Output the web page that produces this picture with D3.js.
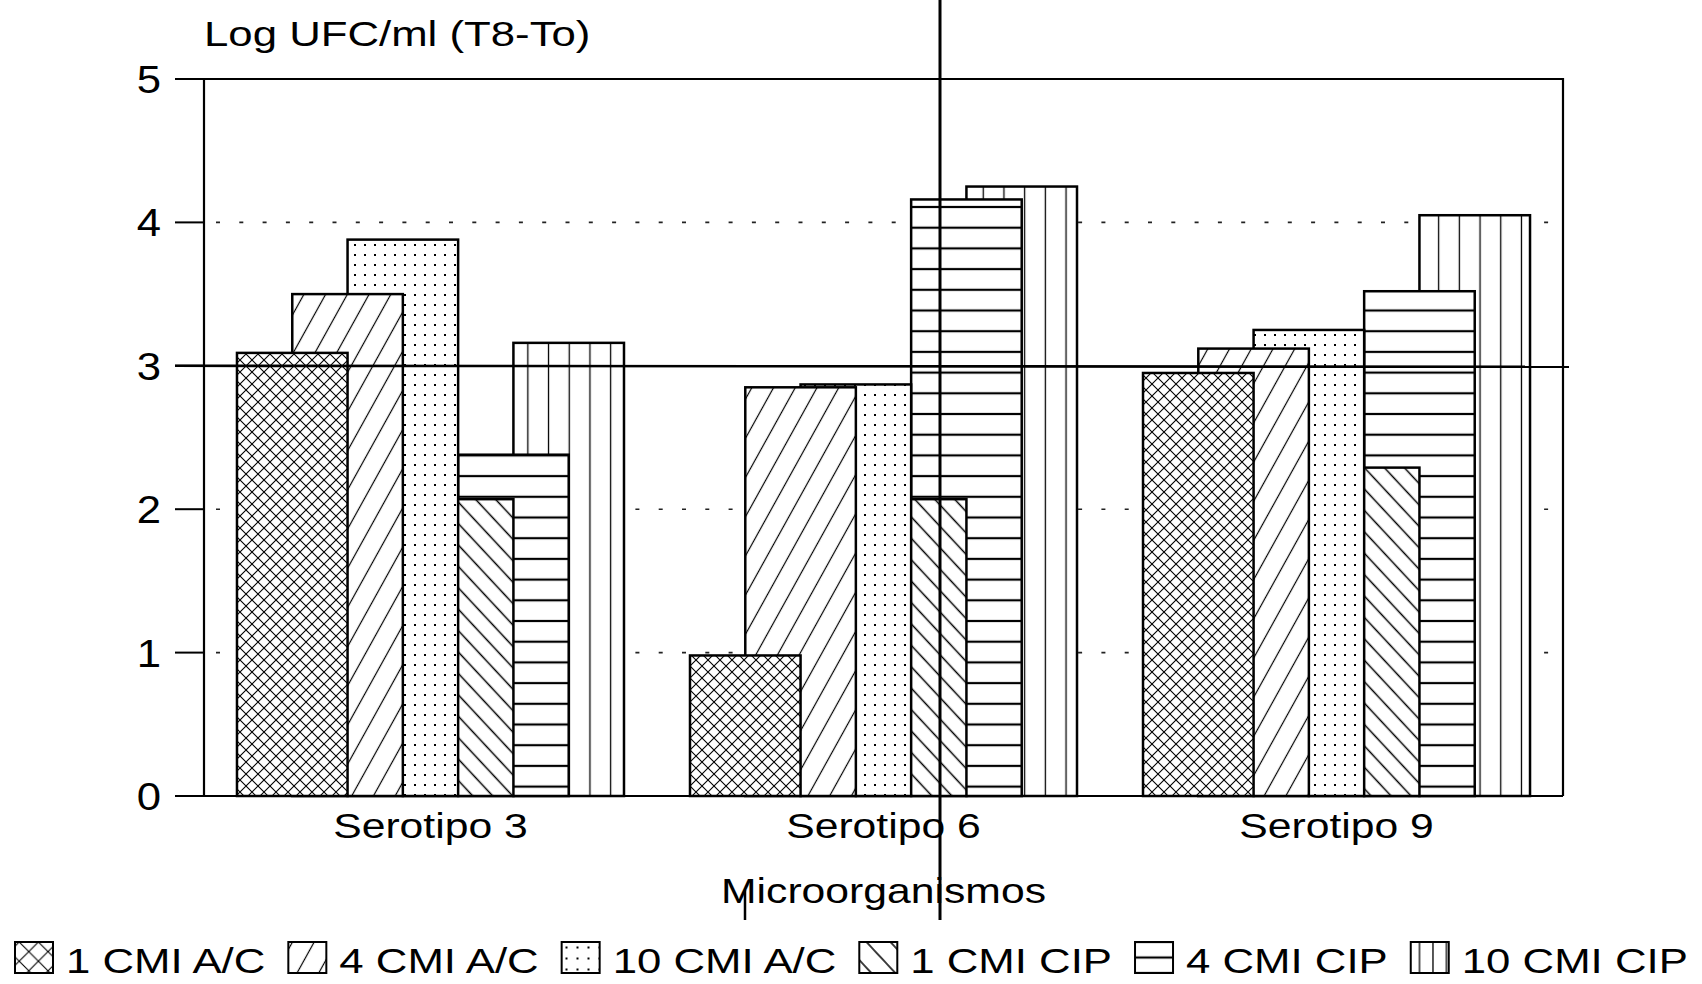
<!DOCTYPE html>
<html>
<head>
<meta charset="utf-8">
<script src="https://cdn.jsdelivr.net/npm/d3@7"></script>
<style>
  body { margin: 0; background: #fff; }
  text { font-family: "Liberation Sans", Arial, sans-serif; fill: #000; }
</style>
</head>
<body>
<svg id="chart" width="1702" height="984"></svg>
<script>
// Data
var categories = ['Serotipo 3', 'Serotipo 6', 'Serotipo 9'];
var seriesNames = ['1 CMI A/C', '4 CMI A/C', '10 CMI A/C',
                   '1 CMI CIP', '4 CMI CIP', '10 CMI CIP'];
var cmi1AC = [3.09, 0.98, 2.95];
var cmi4AC = [3.50, 2.85, 3.12];
var cmi10AC = [3.88, 2.87, 3.25];
var cmi1CIP = [2.07, 2.07, 2.29];
var cmi4CIP = [2.38, 4.16, 3.52];
var cmi10CIP = [3.16, 4.25, 4.05];
var yTicks = [0, 1, 2, 3, 4, 5];
var dottedGrid = [1, 2, 4];
var yTitle = 'Log UFC/ml (T8-To)';
var xTitle = 'Microorganismos';

var seriesValues = [cmi1AC, cmi4AC, cmi10AC, cmi1CIP, cmi4CIP, cmi10CIP];
var patternKinds = ['cross', 'slash', 'dots', 'backslash', 'hlines', 'vlines'];

var svg = d3.select('#chart'),
    plotLeft = 204,
    plotRight = 1563,
    plotTop = 79,
    plotBottom = 796,
    tickStart = 175,
    sx = 1.22;

var x0 = d3.scaleBand()
    .domain(categories)
    .range([plotLeft, plotRight])
    .paddingInner(0.1457)
    .paddingOuter(0.0728);

// seven half-width slots per group, each bar spans two of them
var slot = d3.scaleLinear().domain([0, 7]).range([0, x0.bandwidth()]);

var y = d3.scaleLinear().domain([0, 5]).range([plotBottom, plotTop]);

var defs = svg.append('defs');

/**
  Build one hatch pattern. k stretches the spacing, oy shifts the tiles.
 */
function addPattern(id, kind, k, oy) {
  var p = defs.append('pattern')
      .attr('id', id)
      .attr('patternUnits', 'userSpaceOnUse')
      .attr('y', oy || 0);
  var w, h;
  if (kind === 'cross') {
    w = h = 12 * k;
    p.attr('width', w).attr('height', h);
    p.append('rect').attr('width', w).attr('height', h).attr('fill', '#fff');
    p.append('path')
      .attr('d', 'M0,0L' + w + ',' + h + 'M0,' + h + 'L' + w + ',0')
      .attr('stroke', '#000').attr('stroke-width', 1.1);
  } else if (kind === 'slash' || kind === 'backslash') {
    w = (kind === 'slash' ? 19 : 14.6) * k;
    h = 10;
    p.attr('width', w).attr('height', h)
      .attr('patternTransform', kind === 'slash' ? 'rotate(29)' : 'rotate(-43)');
    p.append('rect').attr('width', w).attr('height', h).attr('fill', '#fff');
    p.append('line')
      .attr('x1', w / 2).attr('x2', w / 2).attr('y1', -1).attr('y2', h + 1)
      .attr('stroke', '#000').attr('stroke-width', kind === 'slash' ? 1.2 : 1.5);
  } else if (kind === 'dots') {
    w = h = 10 * k;
    p.attr('width', w).attr('height', h);
    p.append('rect').attr('width', w).attr('height', h).attr('fill', '#fff');
    p.append('rect').attr('x', w / 2 - 1).attr('y', h / 2 - 1)
      .attr('width', 2).attr('height', 2).attr('fill', '#000');
  } else if (kind === 'hlines') {
    w = 10;
    h = 20.7 * k;
    p.attr('width', w).attr('height', h);
    p.append('rect').attr('width', w).attr('height', h).attr('fill', '#fff');
    p.append('line')
      .attr('x1', -1).attr('x2', w + 1).attr('y1', h).attr('y2', h)
      .attr('stroke', '#000').attr('stroke-width', 2.2);
    p.append('line')
      .attr('x1', -1).attr('x2', w + 1).attr('y1', 0).attr('y2', 0)
      .attr('stroke', '#000').attr('stroke-width', 2.2);
  } else if (kind === 'vlines') {
    w = 20.7 * k;
    h = 10;
    p.attr('width', w).attr('height', h);
    p.append('rect').attr('width', w).attr('height', h).attr('fill', '#fff');
    p.append('line')
      .attr('x1', w / 2).attr('x2', w / 2).attr('y1', -1).attr('y2', h + 1)
      .attr('stroke', '#000').attr('stroke-width', 1.3);
  }
}

var legendY = 942,
    legendH = 31,
    legendW = 38;
var legendScale = {cross: 1.6, slash: 1, dots: 1.1, backslash: 1.2, hlines: 0.75, vlines: 0.65};

patternKinds.forEach(function(kind) {
  addPattern('bar-' + kind, kind, 1, 0);
  addPattern('leg-' + kind, kind, legendScale[kind], legendY);
});

function addText(sel, x, yy, str, anchor, size, scale) {
  return sel.append('text')
    .attr('transform', 'translate(' + x + ',' + yy + ') scale(' + scale + ',1)')
    .attr('text-anchor', anchor)
    .style('font-size', size + 'px')
    .text(str);
}

// Dotted grid lines behind the bars
svg.append('g').selectAll('line')
  .data(dottedGrid)
  .enter().append('line')
  .attr('x1', plotLeft + 12).attr('x2', plotRight)
  .attr('y1', function(d) { return y(d); })
  .attr('y2', function(d) { return y(d); })
  .attr('stroke', '#222')
  .attr('stroke-width', 1.6)
  .attr('stroke-dasharray', '4,19.3');

// Bars: the first series sits on top, so draw in reverse order
var barsG = svg.append('g');
d3.range(seriesNames.length).reverse().forEach(function(i) {
  barsG.append('g').selectAll('rect')
    .data(seriesValues[i])
    .enter().append('rect')
    .attr('x', function(d, j) { return x0(categories[j]) + slot(i); })
    .attr('width', slot(2) - slot(0))
    .attr('y', function(d) { return y(d); })
    .attr('height', function(d) { return y(0) - y(d); })
    .attr('fill', 'url(#bar-' + patternKinds[i] + ')')
    .attr('stroke', '#000')
    .attr('stroke-width', 2.5);
});

// Frame and axes
var axisG = svg.append('g').attr('stroke', '#000').attr('fill', 'none');
axisG.append('path')
  .attr('d', 'M' + tickStart + ',' + plotTop + 'H' + plotRight + 'V' + plotBottom)
  .attr('stroke-width', 2.2);
axisG.append('line')
  .attr('x1', plotLeft).attr('x2', plotLeft).attr('y1', plotTop).attr('y2', plotBottom)
  .attr('stroke-width', 2.2);
axisG.append('line')
  .attr('x1', tickStart).attr('x2', plotRight).attr('y1', plotBottom).attr('y2', plotBottom)
  .attr('stroke-width', 2.2);
axisG.selectAll('.tick')
  .data(yTicks)
  .enter().append('line')
  .attr('class', 'tick')
  .attr('x1', tickStart).attr('x2', plotLeft)
  .attr('y1', function(d) { return y(d); })
  .attr('y2', function(d) { return y(d); })
  .attr('stroke-width', 2);

yTicks.forEach(function(t) {
  addText(svg, 161, y(t) + 14, String(t), 'end', 38, 1.15);
});

addText(svg, plotLeft, 46, yTitle, 'start', 35, 1.25);

categories.forEach(function(c) {
  addText(svg, x0(c) + x0.bandwidth() / 2, 838, c, 'middle', 35, sx);
});
addText(svg, (plotLeft + plotRight) / 2, 903, xTitle, 'middle', 35, sx);

// Marks that cross the scanned page: solid line at 3 and two vertical strokes
svg.append('line')
  .attr('x1', tickStart).attr('x2', plotRight + 6)
  .attr('y1', y(3)).attr('y2', y(3) + 1)
  .attr('stroke', '#000').attr('stroke-width', 2.6);
svg.append('line')
  .attr('x1', 940).attr('x2', 940).attr('y1', 0).attr('y2', 920)
  .attr('stroke', '#000').attr('stroke-width', 3);
svg.append('line')
  .attr('x1', 745).attr('x2', 745).attr('y1', 890).attr('y2', 920)
  .attr('stroke', '#000').attr('stroke-width', 2.5);

// Legend
var legendG = svg.append('g'),
    lx = 15,
    legendScaleX = 1.25;
seriesNames.forEach(function(name, i) {
  legendG.append('rect')
    .attr('x', lx).attr('y', legendY)
    .attr('width', legendW).attr('height', legendH)
    .attr('fill', 'url(#leg-' + patternKinds[i] + ')')
    .attr('stroke', '#000')
    .attr('stroke-width', 2);
  var t = addText(legendG, lx + 51, legendY + legendH, name, 'start', 35, legendScaleX);
  var tw = t.node().getComputedTextLength() * legendScaleX;
  lx = lx + 51 + tw + 23;
});
</script>
</body>
</html>
